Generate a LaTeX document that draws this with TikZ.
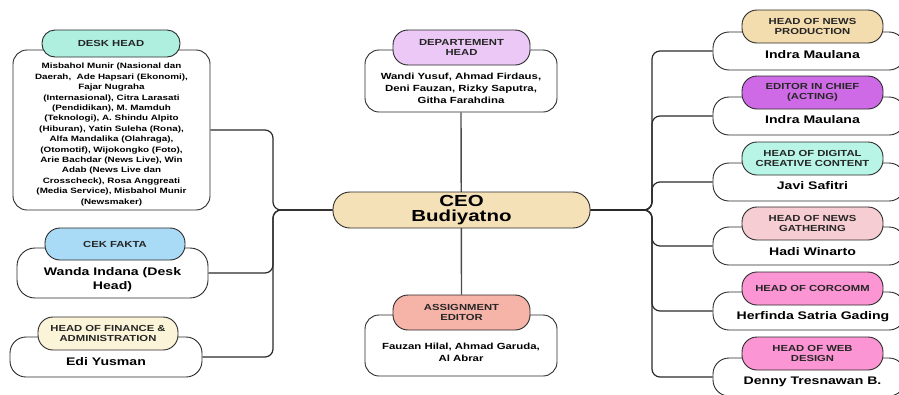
\documentclass[tikz,border=0pt]{standalone}
\usepackage{fontspec}
\setmainfont{Liberation Sans}[FakeStretch=1.28]
\usetikzlibrary{backgrounds}
\definecolor{cceo}{HTML}{F5E1B8}
\definecolor{cdept}{HTML}{EBC8F5}
\definecolor{cassign}{HTML}{F6B3A8}
\definecolor{cdesk}{HTML}{AEEFE0}
\definecolor{ccek}{HTML}{A9DBF7}
\definecolor{cfin}{HTML}{FBF4D8}
\definecolor{chnp}{HTML}{F3DCAE}
\definecolor{ceic}{HTML}{CE6AE6}
\definecolor{cdig}{HTML}{B8F5E6}
\definecolor{cgat}{HTML}{F6CDD2}
\definecolor{ccor}{HTML}{FB95D3}
\definecolor{cline}{HTML}{2A2A2A}
\tikzset{
  bodybox/.style={draw=cline, line width=0.9pt, fill=white, rounded corners=14pt, inner sep=0pt},
  pillbox/.style={draw=cline, line width=0.9pt, rounded corners=13pt, inner sep=0pt, align=center,
     font=\fontsize{8.8}{9.6}\selectfont\bfseries, text=black!85},
  nametxt/.style={font=\fontsize{11}{14}\selectfont\bfseries, align=center, inner sep=0pt},
  smalltxt/.style={font=\fontsize{8.9}{11.7}\selectfont\bfseries, align=center, inner sep=0pt},
  tinytxt/.style={font=\fontsize{7.7}{10.4}\selectfont\bfseries, align=center, inner sep=0pt},
  conn/.style={draw=cline, line width=1.2pt, rounded corners=8pt},
  vconn/.style={draw=black!70, line width=1.4pt},
}
\begin{document}
\begin{tikzpicture}[x=1pt,y=-1pt]
\useasboundingbox (0,0) rectangle (899,394);
\begin{scope}
\clip (0,0) rectangle (899,394);
% CEO
\node[draw=cline, line width=0.9pt, fill=cceo, rounded corners=17pt, minimum width=257pt, minimum height=36pt,
  inner sep=0pt, align=center, font=\fontsize{16}{15.7}\selectfont\bfseries] (ceo) at (461.5,210) {CEO\\Budiyatno};

% Department head
\node[bodybox, minimum width=192pt, minimum height=62pt] (deptB) at (461,81) {};
\node[pillbox, fill=cdept, minimum width=137pt, minimum height=35pt, rounded corners=15pt] (deptP) at (461.5,47.5) {DEPARTEMENT\\HEAD};
\node[smalltxt] (deptT) at (461,88.5) {Wandi Yusuf, Ahmad Firdaus,\\Deni Fauzan, Rizky Saputra,\\Githa Farahdina};

% Assignment editor
\node[bodybox, minimum width=192pt, minimum height=61pt] (asgB) at (461,345.5) {};
\node[pillbox, fill=cassign, minimum width=137pt, minimum height=35pt, rounded corners=15pt] (asgP) at (461.5,312.5) {ASSIGNMENT\\EDITOR};
\node[smalltxt] (asgT) at (461,352.5) {Fauzan Hilal, Ahmad Garuda,\\Al Abrar};

% Desk head
\node[bodybox, minimum width=197pt, minimum height=160pt] (deskB) at (111.5,130) {};
\node[pillbox, fill=cdesk, minimum width=138pt, minimum height=27pt] (deskP) at (111,43.5) {DESK HEAD};
\node[tinytxt] (deskT) at (111.5,134.5) {Misbahol Munir (Nasional dan\\Daerah,\ \ Ade Hapsari (Ekonomi),\\Fajar Nugraha\\(Internasional), Citra Larasati\\(Pendidikan), M. Mamduh\\(Teknologi), A. Shindu Alpito\\(Hiburan), Yatin Suleha (Rona),\\Alfa Mandalika (Olahraga),\\(Otomotif), Wijokongko (Foto),\\Arie Bachdar (News Live), Win\\Adab (News Live dan\\Crosscheck), Rosa Anggreati\\(Media Service), Misbahol Munir\\(Newsmaker)};

% Cek fakta
\node[bodybox, minimum width=191pt, minimum height=50pt, rounded corners=18pt] (cekB) at (112.5,273) {};
\node[pillbox, fill=ccek, minimum width=140pt, minimum height=32pt, rounded corners=15pt] (cekP) at (115,244) {CEK FAKTA};
\node[nametxt] (cekT) at (112.5,280) {Wanda Indana (Desk\\Head)};

% Finance
\node[bodybox, minimum width=192pt, minimum height=40pt, rounded corners=16pt] (finB) at (106,357) {};
\node[pillbox, fill=cfin, minimum width=140pt, minimum height=33pt, rounded corners=15pt] (finP) at (108,333.5) {HEAD OF FINANCE \&\\ADMINISTRATION};
\node[nametxt] (finT) at (106,362) {Edi Yusman};

% Right column
\node[bodybox, minimum width=192pt, minimum height=38pt, rounded corners=16pt] (r1B) at (809,51) {};
\node[pillbox, fill=chnp, minimum width=141pt, minimum height=33pt, rounded corners=15pt] (r1P) at (812.5,26.5) {HEAD OF NEWS\\PRODUCTION};
\node[nametxt] (r1T) at (812.5,55) {Indra Maulana};

\node[bodybox, minimum width=192pt, minimum height=38pt, rounded corners=16pt] (r2B) at (809,116) {};
\node[pillbox, fill=ceic, minimum width=141pt, minimum height=33pt, rounded corners=15pt] (r2P) at (812.5,92.5) {EDITOR IN CHIEF\\(ACTING)};
\node[nametxt] (r2T) at (812.5,120) {Indra Maulana};

\node[bodybox, minimum width=192pt, minimum height=38pt, rounded corners=16pt] (r3B) at (809,182) {};
\node[pillbox, fill=cdig, minimum width=141pt, minimum height=33pt, rounded corners=15pt] (r3P) at (812.5,158.5) {HEAD OF DIGITAL\\CREATIVE CONTENT};
\node[nametxt] (r3T) at (812.5,186) {Javi Safitri};

\node[bodybox, minimum width=192pt, minimum height=38pt, rounded corners=16pt] (r4B) at (809,246) {};
\node[pillbox, fill=cgat, minimum width=141pt, minimum height=33pt, rounded corners=15pt] (r4P) at (812.5,223.5) {HEAD OF NEWS\\GATHERING};
\node[nametxt] (r4T) at (812.5,252) {Hadi Winarto};

\node[bodybox, minimum width=192pt, minimum height=38pt, rounded corners=16pt] (r5B) at (809,311) {};
\node[pillbox, fill=ccor, minimum width=141pt, minimum height=33pt, rounded corners=15pt] (r5P) at (812.5,288.5) {HEAD OF CORCOMM};
\node[nametxt] (r5T) at (813,317) {Herfinda Satria Gading};

\node[bodybox, minimum width=192pt, minimum height=38pt, rounded corners=16pt] (r6B) at (809,377) {};
\node[pillbox, fill=ccor, minimum width=141pt, minimum height=33pt, rounded corners=15pt] (r6P) at (812.5,353.5) {HEAD OF WEB\\DESIGN};
\node[nametxt] (r6T) at (812.5,382) {Denny Tresnawan B.};

% trunk coordinates
\coordinate (LT) at (273,210);
\coordinate (RT) at (652,210);

\begin{scope}[on background layer]
\draw[vconn] (deptB.south) -- (asgP.north);
\foreach \b in {deskB,cekB,finB}
  \draw[conn] (\b.east) -| (LT) -- (ceo.west);
\foreach \b in {r1B,r2B,r3B,r4B,r5B,r6B}
  \draw[conn] (ceo.east) -- (RT) |- (\b.west);
\end{scope}
\end{scope}
\end{tikzpicture}
\end{document}
